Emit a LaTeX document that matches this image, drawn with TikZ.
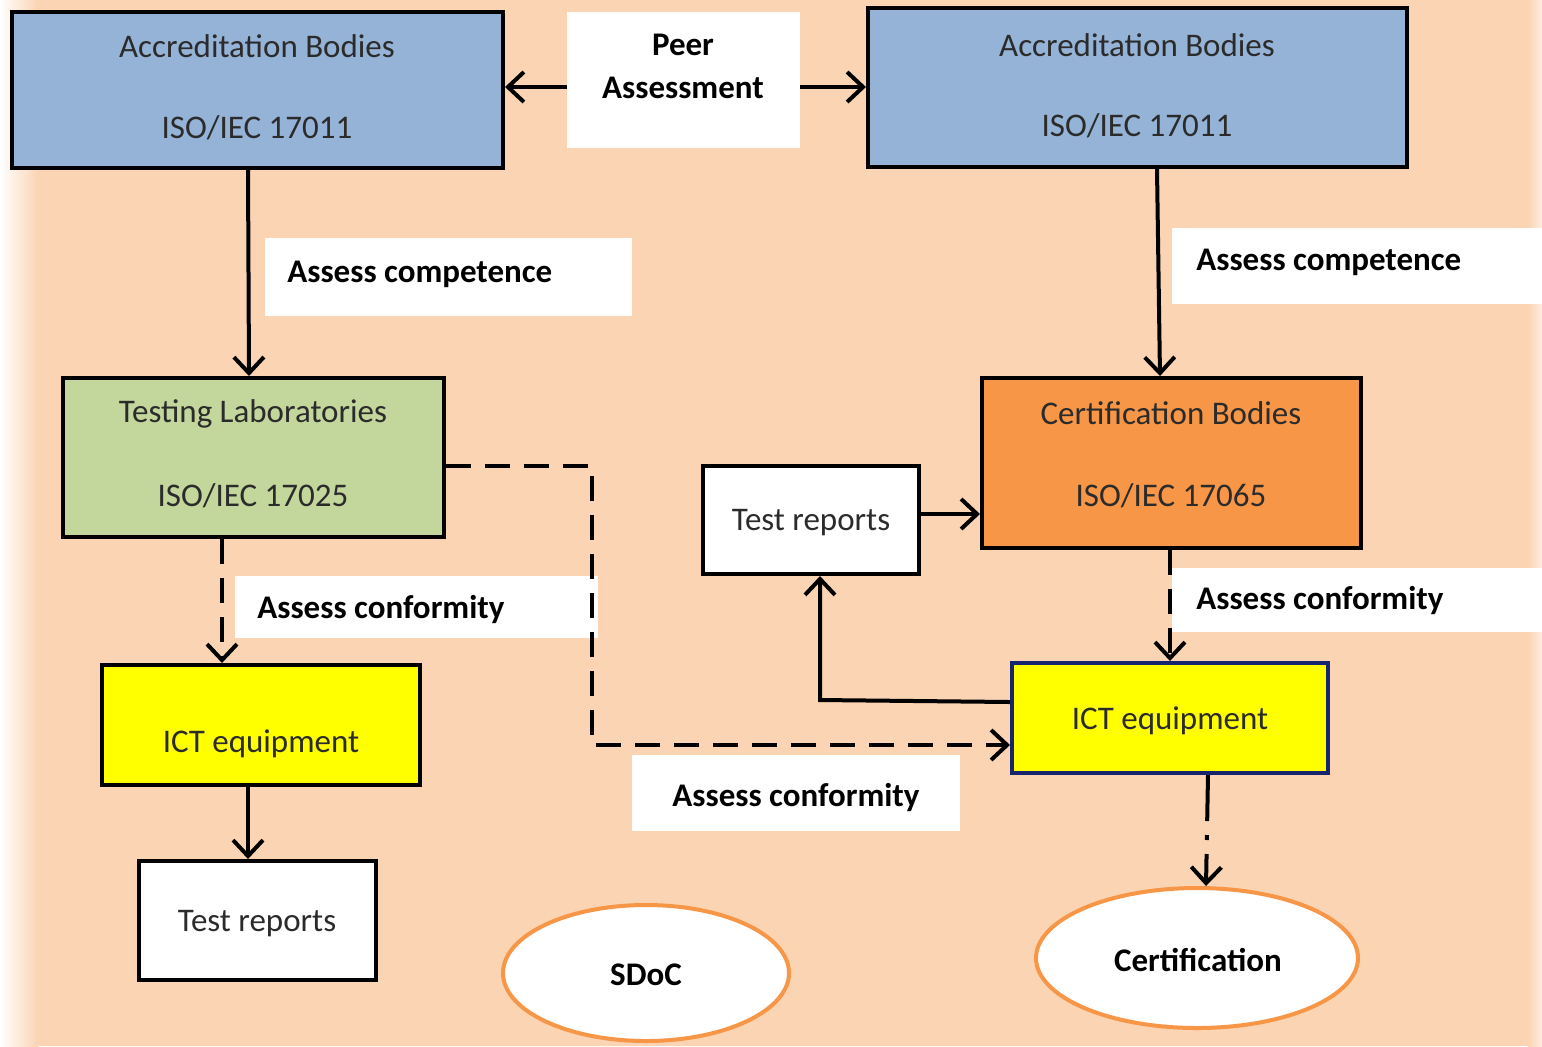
\documentclass[tikz,border=0pt]{standalone}
\usepackage{fontspec}
\setmainfont{Carlito}
\usetikzlibrary{arrows.meta,fit,shapes.geometric}
\definecolor{peach}{HTML}{FBD4B4}
\definecolor{accblue}{HTML}{95B3D7}
\definecolor{labgreen}{HTML}{C3D69B}
\definecolor{certorange}{HTML}{F79646}
\definecolor{ictyellow}{HTML}{FFFF00}
\definecolor{ictnavy}{HTML}{17246E}
\definecolor{boxtext}{HTML}{2B2B2B}
\tikzset{
  bx/.style={draw=black, line width=2pt, inner sep=0pt},
  tagbox/.style={fill=white, inner sep=0pt},
  txt/.style={font=\fontsize{16.5pt}{19pt}\selectfont, text=boxtext, inner sep=0pt},
  btxt/.style={font=\fontsize{16.5pt}{19pt}\selectfont\bfseries, text=black, inner sep=0pt},
  arr/.style={line width=2pt, -{Straight Barb[length=8pt,width=15pt]}},
  darr/.style={arr, dash pattern=on 12.5pt off 7pt},
  ddarr/.style={arr, dash pattern=on 23pt off 7pt on 2.5pt off 7pt},
  oval/.style={ellipse, draw=certorange, line width=2pt, fill=white, inner sep=0pt},
}
\begin{document}
\begin{tikzpicture}[x=0.5pt,y=-0.5pt]
% page and edge fades
\fill[peach] (0,0) rectangle (1542,1046);
\useasboundingbox (0,0) rectangle (1542,1046);
\shade[left color=white, right color=peach] (0,0) rectangle (38,1046);
\shade[left color=peach, right color=white!60!peach] (1528,0) rectangle (1542,1046);

% white label strips
\node[tagbox, fit={(567,12)(800,148)}] (peer) {};
\node[tagbox, fit={(265,238)(632,316)}] (tagcl) {};
\node[tagbox, fit={(1172,228)(1542,304)}] (tagcr) {};
\node[tagbox, fit={(235,576)(598,638)}] (tagfl) {};
\node[tagbox, fit={(1172,568)(1542,632)}] (tagfr) {};
\node[tagbox, fit={(632,755)(960,831)}] (tagfm) {};

\node[btxt] at (683,45) {Peer};
\node[btxt] at (683,88) {Assessment};
\node[btxt, anchor=west] at (287,274) {Assess competence};
\node[btxt, anchor=west] at (1196,262) {Assess competence};
\node[btxt, anchor=west] at (257,610) {Assess conformity};
\node[btxt, anchor=west] at (1196,601) {Assess conformity};
\node[btxt] at (796,797) {Assess conformity};

% boxes
\node[bx, fill=accblue, fit={(12,12)(503,168)}] (abl) {};
\node[txt] at (257,46) {Accreditation Bodies};
\node[txt] at (257,128) {ISO/IEC 17011};

\node[bx, fill=accblue, fit={(868,8)(1407,167)}] (abr) {};
\node[txt] at (1137,45) {Accreditation Bodies};
\node[txt] at (1137,126) {ISO/IEC 17011};

\node[bx, fill=labgreen, fit={(63,378)(444,537)}] (tl) {};
\node[txt] at (253,414) {Testing Laboratories};
\node[txt] at (253,496) {ISO/IEC 17025};

\node[bx, fill=certorange, fit={(982,378)(1361,548)}] (cb) {};
\node[txt] at (1171,413) {Certification Bodies};
\node[txt] at (1171,496) {ISO/IEC 17065};

\node[bx, fill=white, fit={(703,466)(919,574)}] (trm) {};
\node[txt] at (811,523) {Test reports};

\node[bx, fill=ictyellow, fit={(102,665)(420,785)}] (ictl) {};
\node[txt] at (261,744) {ICT equipment};

\node[bx, fill=white, fit={(139,861)(376,980)}] (trl) {};
\node[txt] at (257,924) {Test reports};

\node[bx, draw=ictnavy, fill=ictyellow, fit={(1012,663)(1328,773)}] (ictr) {};
\node[txt] at (1170,721) {ICT equipment};

\node[oval, minimum width=143pt, minimum height=68pt] (sdoc) at (646,973) {};
\node[btxt] at (646,975) {SDoC};
\node[oval, minimum width=161pt, minimum height=70pt] (cert) at (1197,958) {};
\node[btxt] at (1198,960) {Certification};

% connectors
\draw[arr] (peer.west |- 0,87) -- (abl.east |- 0,87);
\draw[arr] (peer.east |- 0,87) -- (abr.west |- 0,87);
\draw[arr] (abl.south -| 248,0) -- (tl.north -| 249,0);
\draw[arr] (abr.south -| 1157,0) -- (cb.north -| 1160,0);
\draw[arr] (trm.east |- 0,514) -- (cb.west |- 0,514);
\draw[darr] (tl.south -| 222,0) -- (ictl.north -| 222,0);
\draw[arr] (ictl.south -| 248,0) -- (trl.north -| 248,0);
\draw[darr] (tl.east |- 0,466) -- (592,466) -- (592,745) -- (ictr.west |- 0,745);
\draw[darr] (cb.south -| 1170,0) -- (ictr.north -| 1170,0);
\draw[arr] (ictr.west |- 0,702) -- (820,700) -- (trm.south -| 820,0);
\draw[ddarr] (ictr.south -| 1208,0) -- (cert.north -| 1206,0);
\end{tikzpicture}
\end{document}
